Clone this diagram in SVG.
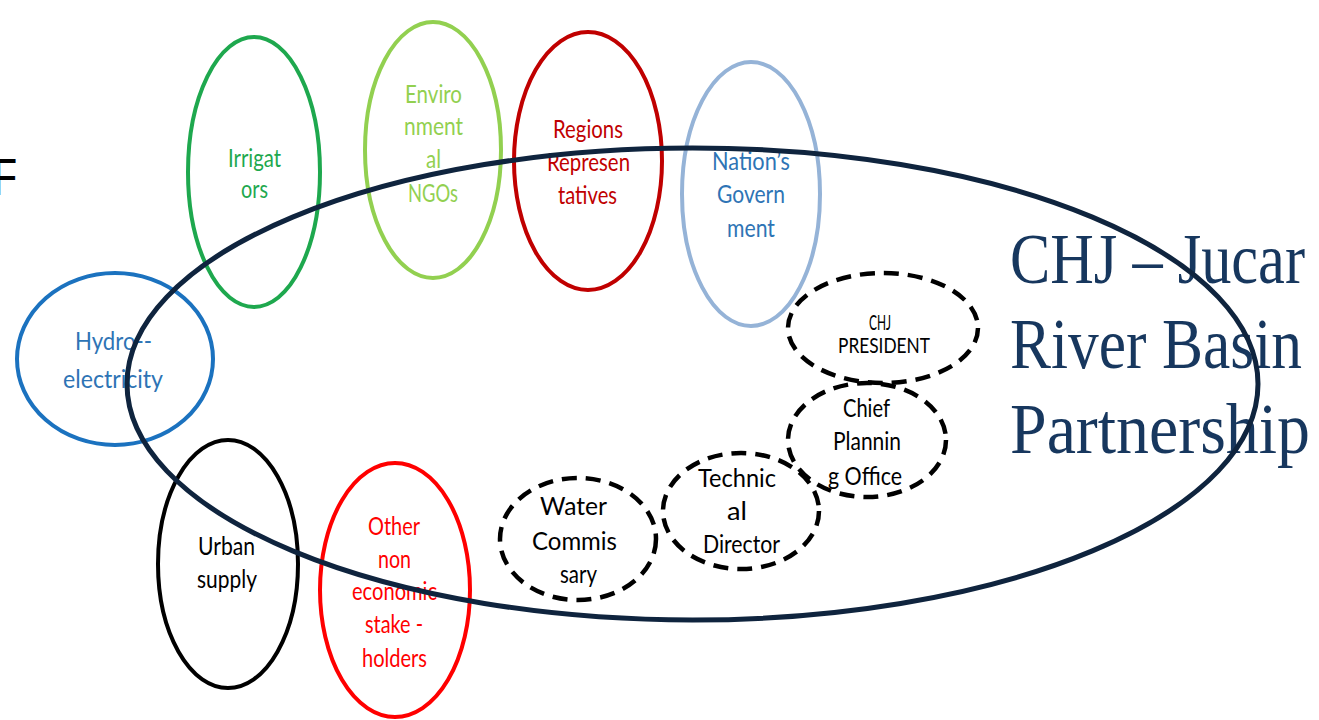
<svg xmlns="http://www.w3.org/2000/svg" width="1319" height="720" viewBox="0 0 1319 720">
<style>
.n{fill:none;stroke-width:4}
.d{fill:none;stroke:#000;stroke-width:4.5;stroke-dasharray:15 9}
.t{font-family:Lato,"Liberation Sans",sans-serif;font-size:25px}
.s{font-family:Lato,"Liberation Sans",sans-serif;font-size:21px}
.ttl{font-family:"Liberation Serif",serif;font-size:72px;fill:#17375e}
</style>
<rect width="1319" height="720" fill="#fff"/>
<g id="fragment"><text x="-9" y="195" transform="scale(0.75,1)" font-family="Liberation Sans,sans-serif" font-size="52" fill="#000">F</text></g>
<g id="irrigators">
<ellipse class="n" cx="254" cy="172" rx="66" ry="135" stroke="#1ea84e"/>
<g class="t" fill="#1ea84e"><text x="228" y="167" textLength="53" lengthAdjust="spacingAndGlyphs">Irrigat</text><text x="241" y="198" textLength="27" lengthAdjust="spacingAndGlyphs">ors</text></g>
</g>
<g id="environmental-ngos">
<ellipse class="n" cx="433" cy="150" rx="68" ry="128" stroke="#92d050"/>
<g class="t" fill="#92d050"><text x="405" y="103" textLength="57" lengthAdjust="spacingAndGlyphs">Enviro</text><text x="404" y="135" textLength="59" lengthAdjust="spacingAndGlyphs">nment</text><text x="426" y="168" textLength="15" lengthAdjust="spacingAndGlyphs">al</text><text x="408" y="202" textLength="50" lengthAdjust="spacingAndGlyphs">NGOs</text></g>
</g>
<g id="regions-representatives">
<ellipse class="n" cx="588" cy="161" rx="74" ry="129" stroke="#c00000"/>
<g class="t" fill="#c00000"><text x="553" y="138" textLength="70" lengthAdjust="spacingAndGlyphs">Regions</text><text x="547" y="171" textLength="83" lengthAdjust="spacingAndGlyphs">Represen</text><text x="558" y="204" textLength="59" lengthAdjust="spacingAndGlyphs">tatives</text></g>
</g>
<g id="nations-government">
<ellipse class="n" cx="751" cy="194" rx="69" ry="132" stroke="#95b3d7"/>
<g class="t" fill="#2e74b5"><text x="712" y="170" textLength="78" lengthAdjust="spacingAndGlyphs">Nation’s</text><text x="717" y="203" textLength="68" lengthAdjust="spacingAndGlyphs">Govern</text><text x="727" y="237" textLength="48" lengthAdjust="spacingAndGlyphs">ment</text></g>
</g>
<g id="hydroelectricity">
<ellipse class="n" cx="115" cy="359" rx="98" ry="86" stroke="#1b72bf"/>
<g class="t" fill="#2e74b5"><text x="75" y="350" textLength="77" lengthAdjust="spacingAndGlyphs">Hydro--</text><text x="63" y="388" textLength="100" lengthAdjust="spacingAndGlyphs">electricity</text></g>
</g>
<g id="urban-supply">
<ellipse class="n" cx="228" cy="564" rx="70" ry="124" stroke="#000"/>
<g class="t" fill="#000"><text x="198" y="555" textLength="57" lengthAdjust="spacingAndGlyphs">Urban</text><text x="197" y="588" textLength="60" lengthAdjust="spacingAndGlyphs">supply</text></g>
</g>
<g id="other-stakeholders">
<ellipse class="n" cx="395" cy="590" rx="75" ry="127" stroke="#ff0000"/>
<g class="t" fill="#ff0000"><text x="368" y="535" textLength="52" lengthAdjust="spacingAndGlyphs">Other</text><text x="378" y="568" textLength="33" lengthAdjust="spacingAndGlyphs">non</text><text x="352" y="600" textLength="85" lengthAdjust="spacingAndGlyphs">economic</text><text x="365" y="633" textLength="58" lengthAdjust="spacingAndGlyphs">stake -</text><text x="362" y="667" textLength="65" lengthAdjust="spacingAndGlyphs">holders</text></g>
</g>
<g id="chj-president">
<ellipse class="d" cx="883" cy="328" rx="95" ry="55"/>
<g class="s" fill="#000"><text x="869" y="330" textLength="22" lengthAdjust="spacingAndGlyphs">CHJ</text><text x="838" y="353" textLength="92" lengthAdjust="spacingAndGlyphs">PRESIDENT</text></g>
</g>
<g id="chief-planning-office">
<ellipse class="d" cx="867" cy="440" rx="79" ry="57"/>
<g class="t" fill="#000"><text x="843" y="417" textLength="47" lengthAdjust="spacingAndGlyphs">Chief</text><text x="833" y="450" textLength="68" lengthAdjust="spacingAndGlyphs">Plannin</text><text x="828" y="485" textLength="74" lengthAdjust="spacingAndGlyphs">g Office</text></g>
</g>
<g id="technical-director">
<ellipse class="d" cx="741" cy="511" rx="78" ry="58"/>
<g class="t" fill="#000"><text x="698" y="487" textLength="78" lengthAdjust="spacingAndGlyphs">Technic</text><text x="727" y="520" textLength="20" lengthAdjust="spacingAndGlyphs">al</text><text x="703" y="553" textLength="77" lengthAdjust="spacingAndGlyphs">Director</text></g>
</g>
<g id="water-commissary">
<ellipse class="d" cx="578" cy="539" rx="78" ry="61"/>
<g class="t" fill="#000"><text x="540" y="515" textLength="67" lengthAdjust="spacingAndGlyphs">Water</text><text x="532" y="550" textLength="85" lengthAdjust="spacingAndGlyphs">Commis</text><text x="560" y="583" textLength="37" lengthAdjust="spacingAndGlyphs">sary</text></g>
</g>
<g id="title">
<text class="ttl" x="1010" y="283" textLength="295" lengthAdjust="spacingAndGlyphs">CHJ – Jucar</text>
<text class="ttl" x="1010" y="368" textLength="292" lengthAdjust="spacingAndGlyphs">River Basin</text>
<text class="ttl" x="1010" y="453" textLength="300" lengthAdjust="spacingAndGlyphs">Partnership</text>
</g>
<g id="partnership">
<ellipse cx="692.5" cy="384" rx="565.5" ry="236" fill="none" stroke="#0f243e" stroke-width="5"/>
</g>
<g id="connectors"/>
</svg>
